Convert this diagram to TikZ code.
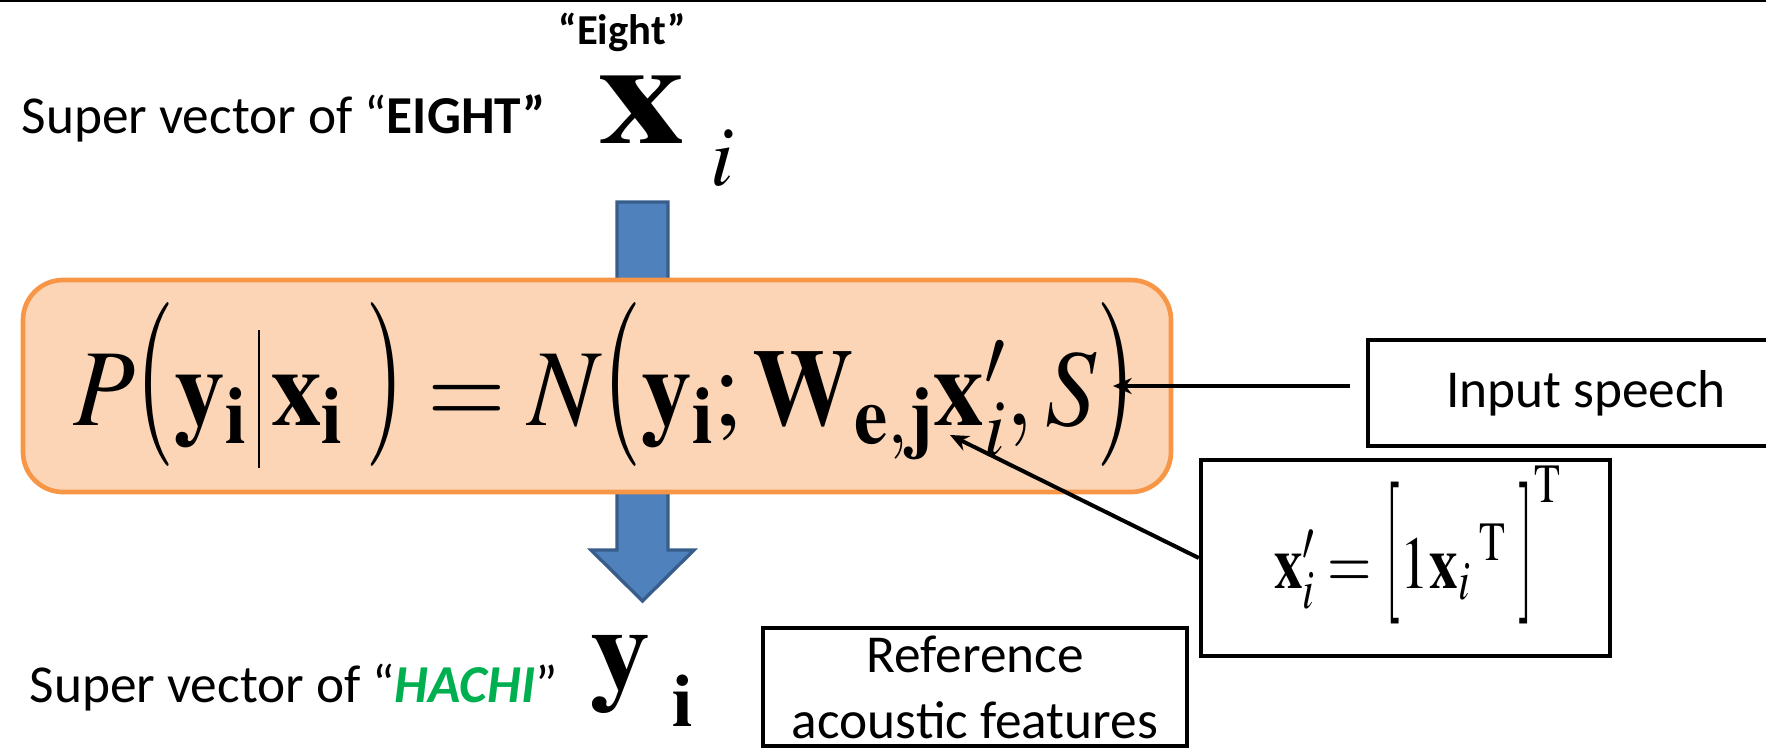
\documentclass[tikz,border=0pt]{standalone}
\usepackage{mathptmx}
\usepackage[no-math]{fontspec}
\setmainfont{Carlito}
\usepackage{graphicx}
\usetikzlibrary{arrows.meta}
\usetikzlibrary{positioning}
\definecolor{pptorange}{HTML}{F79646}
\definecolor{pptpeach}{HTML}{FBD5B5}
\definecolor{pptblue}{HTML}{4F81BD}
\definecolor{pptnavy}{HTML}{385D8A}
\definecolor{pptgreen}{HTML}{00B050}
\newcommand{\captext}{\fontsize{40}{49.5}\selectfont}
% tall thin delimiters, as in the slide
\newcommand{\lpar}{\mathopen{\scalebox{1}[1.5]{$($}}}
\newcommand{\rpar}{\mathclose{\scalebox{1}[1.5]{$)$}}}
\newcommand{\lbrk}{\mathopen{\scalebox{1}[1.9]{$[$}}}
\newcommand{\rbrk}{\mathclose{\scalebox{1}[1.9]{$]$}}}
\newcommand{\givenbar}{\,\vrule width 1.6pt height 71pt depth 32pt\,}
\tikzset{
    pointer/.style={arrows={-Stealth[length=14pt,width=12pt]}, line width=3pt},
    infobox/.style={draw, line width=3pt, inner sep=2pt},
    likbox/.style={draw=pptorange, fill=pptpeach, line width=3.5pt, rounded corners=30pt},
    flowarrow/.style={draw=pptnavy, fill=pptblue, line width=2.5pt}
}

\begin{document}
\begin{tikzpicture}[x=0.75pt, y=-0.75pt]
    \clip (0,0) rectangle (1766,749);
    \draw[line width=1.5pt] (0,1) -- (1766,1);

    \node[anchor=base, inner sep=1pt, font=\fontsize{32}{36}\selectfont\bfseries] (eight) at (622,45) {“Eight”};
    \node[anchor=base west, inner sep=1pt, font=\captext] (srclbl) at (20,133) {Super vector of “\textbf{EIGHT”}};
    \node[anchor=base west, inner sep=0pt] (xvec) at (598,143) {\fontsize{110}{120}\selectfont\resizebox{65pt}{\height}{$\mathbf{x}$}};
    \node[anchor=base west, inner sep=0pt] (xsub) at (710,185) {\fontsize{64}{70}\selectfont$i$};

    % mapping arrow, behind the box
    \draw[flowarrow] (617,202) -- (668,202) -- (668,550) -- (694,550) -- (642.5,601) -- (591,550) -- (617,550) -- cycle;

    \node[likbox, minimum width=861pt, minimum height=159pt] (likbox) at (597,386) {};
    \node[anchor=base west, inner sep=0pt] (lik) at (73,425) {\fontsize{82}{98}\selectfont\resizebox{797pt}{\height}{$P\lpar\mathbf{y}_{\mathbf{i}}\givenbar\mathbf{x}_{\mathbf{i}}\;\rpar=N\lpar\mathbf{y}_{\mathbf{i}};\mathbf{W}_{\mathbf{e,j}}\mathbf{x}'_{i},S\rpar$}};

    \coordinate (stip) at (1113,386);
    \coordinate (xtip) at (950,435);

    \node[infobox, minimum width=327pt, minimum height=79.5pt, font=\captext] (inbox) at (1586,393) {Input speech};
    \node[infobox, minimum width=307pt, minimum height=147pt] (xpbox) at (1405.5,558) {};
    \node[anchor=base west, inner sep=0pt] (xpdef) at (1274,588) {\fontsize{56}{64}\selectfont\resizebox{215pt}{\height}{$\mathbf{x}'_{i}=\lbrk 1\mathbf{x}_{i}{}^{\;\mathrm{T}}\;\rbrk^{\mathrm{T}}$}};
    \node[infobox, minimum width=318pt, minimum height=88.5pt, align=center, font=\captext] (refbox) at (975,687) {Reference\\acoustic features};

    \node[anchor=base west, inner sep=1pt, font=\captext] (tgtlbl) at (28,702) {Super vector of “\textcolor{pptgreen}{\bfseries\itshape HACHI}”};
    \node[anchor=base west, inner sep=0pt] (yvec) at (590,689) {\fontsize{88}{100}\selectfont\resizebox{45pt}{\height}{$\mathbf{y}$}};
    \node[anchor=base west, inner sep=0pt] (ysub) at (672,726) {\fontsize{56}{64}\selectfont$\mathbf{i}$};

    \draw[pointer, shorten <=12pt] (stip -| inbox.west) -- (stip);
    \draw[pointer] (xpbox.west) -- (xtip);
\end{tikzpicture}
\end{document}
